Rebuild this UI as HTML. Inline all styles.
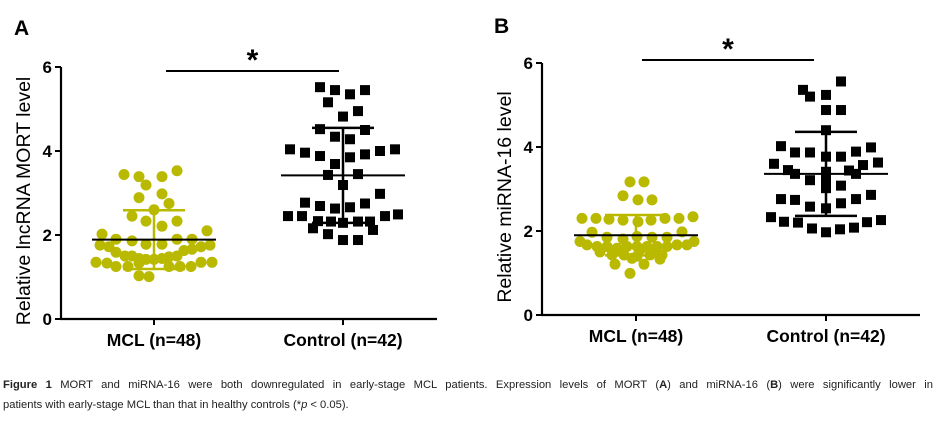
<!DOCTYPE html>
<html><head><meta charset="utf-8">
<style>
html,body{margin:0;padding:0;background:#fff;}
body{width:947px;height:427px;position:relative;overflow:hidden;font-family:"Liberation Sans",sans-serif;}
#cap{position:absolute;left:3px;top:375px;width:930px;font-size:11.2px;line-height:20px;color:#222;}
#cap .l1{display:block;text-align:justify;text-align-last:justify;white-space:nowrap;}
#cap .l2{display:block;}
</style></head>
<body>
<svg id="chart" width="947" height="370" style="position:absolute;left:0;top:0" font-family="Liberation Sans, sans-serif"></svg>
<div id="cap"><span class="l1"><b>Figure 1</b> MORT and miRNA-16 were both downregulated in early-stage MCL patients. Expression levels of MORT (<b>A</b>) and miRNA-16 (<b>B</b>) were significantly lower in</span><span class="l2">patients with early-stage MCL than that in healthy controls (*<i>p</i> &lt; 0.05).</span></div>
<script>
// Panel A data
const categories = ["MCL (n=48)", "Control (n=42)"];
const yTicks = [0, 2, 4, 6];
const aMclValues = [3.44,3.39,3.39,3.53,3.19,2.89,2.98,2.75,2.45,2.6,2.33,2.33,2.21,2.02,2.1,1.9,1.86,1.78,1.78,1.9,1.9,1.76,1.72,1.76,1.72,1.59,1.5,1.5,1.44,1.42,1.42,1.44,1.48,1.5,1.63,1.66,1.35,1.33,1.35,1.35,1.25,1.25,1.33,1.25,1.25,1.25,1.03,1.01];
const aMclJitter = [-30,-15,8,23,-8,-15,8,15,-22,0,-8,23,8,-52,53,-38,-22,-8,8,23,38,-54,-45,56,47,-38,-29,-22,-15,-8,0,8,15,23,30,38,-58,-47,47,58,-38,-26,-15,15,26,37,-15,-5];
const aCtrlValues = [5.52,5.45,5.35,5.45,5.16,4.95,4.82,4.52,4.34,4.5,4.28,4.04,3.96,3.88,3.85,3.92,4.0,4.04,3.69,3.43,3.45,3.19,2.98,2.77,2.69,2.63,2.66,2.75,2.45,2.45,2.45,2.49,2.33,2.32,2.29,2.32,2.32,2.16,2.12,2.02,1.88,1.88];
const aCtrlJitter = [-23,-8,7,22,-15,15,0,-23,-8,22,7,-53,-38,-23,7,22,37,52,-8,-15,15,0,37,-38,-23,-8,7,22,-55,-41,42,55,-25,-12,0,15,27,-30,30,-15,0,15];
const aMean = [1.89, 3.42];
const aSd = [0.7, 1.13];
// Panel B data
const bMclValues = [3.17,3.17,2.84,2.74,2.74,2.3,2.3,2.28,2.26,2.22,2.26,2.3,2.3,2.34,1.97,1.98,1.85,1.81,1.87,1.85,1.85,1.75,1.75,1.67,1.63,1.63,1.59,1.63,1.63,1.63,1.63,1.63,1.67,1.67,1.43,1.43,1.4,1.43,1.43,1.33,1.21,1.21,0.99,1.55,1.55,1.55,1.35,1.5];
const bMclJitter = [-6,8,-13,2,16,-54,-40,-27,-13,2,15,29,43,57,-44,46,-29,-13,1,16,31,-56,58,-49,-39,-29,-19,-9,1,11,21,31,41,51,-24,-12,1,14,26,24,-21,8,-6,-16,4,17,-4,-36];
const bCtrlValues = [5.56,5.36,5.2,5.24,4.88,4.88,4.4,4.02,3.87,3.87,3.89,3.99,3.77,3.77,3.6,3.63,3.45,3.36,3.21,3.41,3.36,3.57,3.44,3.02,3.08,2.76,2.74,2.58,2.54,2.66,2.76,2.86,2.33,2.22,2.2,2.06,1.97,2.04,2.08,2.21,2.26,3.2];
const bCtrlJitter = [15,-23,-16,0,0,15,0,-45,-31,-16,30,45,0,15,-52,52,-38,-31,-16,0,30,37,23,0,15,-45,-31,-16,0,15,30,45,-55,-42,-28,-14,0,14,28,41,55,0];
const bMean = [1.9, 3.36];
const bSd = [0.48, 1.0];

const svg = document.getElementById('chart');
const NS = 'http://www.w3.org/2000/svg';
function mk(tag, attrs, parent) {
  const e = document.createElementNS(NS, tag);
  for (const k in attrs) e.setAttribute(k, attrs[k]);
  (parent || svg).appendChild(e);
  return e;
}
const OLIVE = '#b9b900';
function panel(p) {
  const g = mk('g', {});
  
  
  const y = v => p.y0 - v * (p.y0 - p.y6) / 6;
  const x = i => p.cx[i];
  const letter = mk('text', {x: p.letterX, y: p.letterY, 'font-size': 21, 'font-weight': 'bold'}, g);
  letter.textContent = p.letter;
  
  
  const ya = mk('line', {x1: p.ax, x2: p.ax, y1: y(6), y2: p.y0 + 1, stroke: '#000', 'stroke-width': 2.2}, g);
  
  
  const xa = mk('line', {x1: p.ax - 1, x2: p.axEnd, y1: p.y0, y2: p.y0, stroke: '#000', 'stroke-width': 2.2}, g);
  
  
  yTicks.forEach(t => {
    mk('line', {x1: p.ax - 6, x2: p.ax, y1: y(t), y2: y(t), stroke: '#000', 'stroke-width': 2}, g);
    const tl = mk('text', {x: p.ax - 9, y: y(t) + 6, 'font-size': 17, 'font-weight': 'bold', 'text-anchor': 'end'}, g);
    tl.textContent = t;
    
    
  });
  categories.forEach((c, i) => {
    mk('line', {x1: x(i), x2: x(i), y1: p.y0, y2: p.y0 + 6, stroke: '#000', 'stroke-width': 2}, g);
    const cl = mk('text', {x: x(i), y: p.y0 + 27, 'font-size': 17.5, 'font-weight': 'bold', 'text-anchor': 'middle'}, g);
    cl.textContent = c;
    
    
  });
  const yt = mk('text', {transform: `translate(${p.titleX},${(y(6) + p.y0) / 2 + 8}) rotate(-90)`, 'font-size': 19.5, 'text-anchor': 'middle'}, g);
  yt.textContent = p.title;
  
  
  p.mcl.forEach((v, i) => {
    const c = mk('circle', {cx: x(0) + p.mclJ[i], cy: y(v), r: 5.5, fill: OLIVE}, g);
    
    
  });
  p.ctrl.forEach((v, i) => {
    const r = mk('rect', {x: x(1) + p.ctrlJ[i] - 5, y: y(v) - 5, width: 10, height: 10, fill: '#000'}, g);
    
    
  });
  [0, 1].forEach(i => {
    const col = i === 0 ? OLIVE : '#000';
    const m = p.mean[i], s = p.sd[i];
    mk('line', {x1: x(i), x2: x(i), y1: y(m + s), y2: y(m - s), stroke: col, 'stroke-width': 2.5}, g);
    mk('line', {x1: x(i) - 31, x2: x(i) + 31, y1: y(m + s), y2: y(m + s), stroke: col, 'stroke-width': 2.5}, g);
    mk('line', {x1: x(i) - 31, x2: x(i) + 31, y1: y(m - s), y2: y(m - s), stroke: col, 'stroke-width': 2.5}, g);
    const ml = mk('line', {x1: x(i) - 62, x2: x(i) + 62, y1: y(m), y2: y(m), stroke: '#000', 'stroke-width': 2}, g);
    
    
  });
  const sb = mk('line', {x1: p.sigX1, x2: p.sigX2, y1: p.sigY, y2: p.sigY, stroke: '#000', 'stroke-width': 2}, g);
  
  
  const st = mk('text', {x: (p.sigX1 + p.sigX2) / 2, y: p.sigY - 1, 'font-size': 30, 'font-weight': 'bold', 'text-anchor': 'middle'}, g);
  st.textContent = '*';
  
  
}
panel({id: 'a', letter: 'A', letterX: 14, letterY: 35, ax: 61, axEnd: 437, y0: 319, y6: 67, cx: [154, 343], titleX: 30,
  title: 'Relative lncRNA MORT level', mcl: aMclValues, mclJ: aMclJitter, ctrl: aCtrlValues, ctrlJ: aCtrlJitter,
  mean: aMean, sd: aSd, sigX1: 166, sigX2: 339, sigY: 71});
panel({id: 'b', letter: 'B', letterX: 494, letterY: 33, ax: 542, axEnd: 920, y0: 315, y6: 63, cx: [636, 826], titleX: 511,
  title: 'Relative miRNA-16 level', mcl: bMclValues, mclJ: bMclJitter, ctrl: bCtrlValues, ctrlJ: bCtrlJitter,
  mean: bMean, sd: bSd, sigX1: 642, sigX2: 814, sigY: 60});
</script>
</body></html>
